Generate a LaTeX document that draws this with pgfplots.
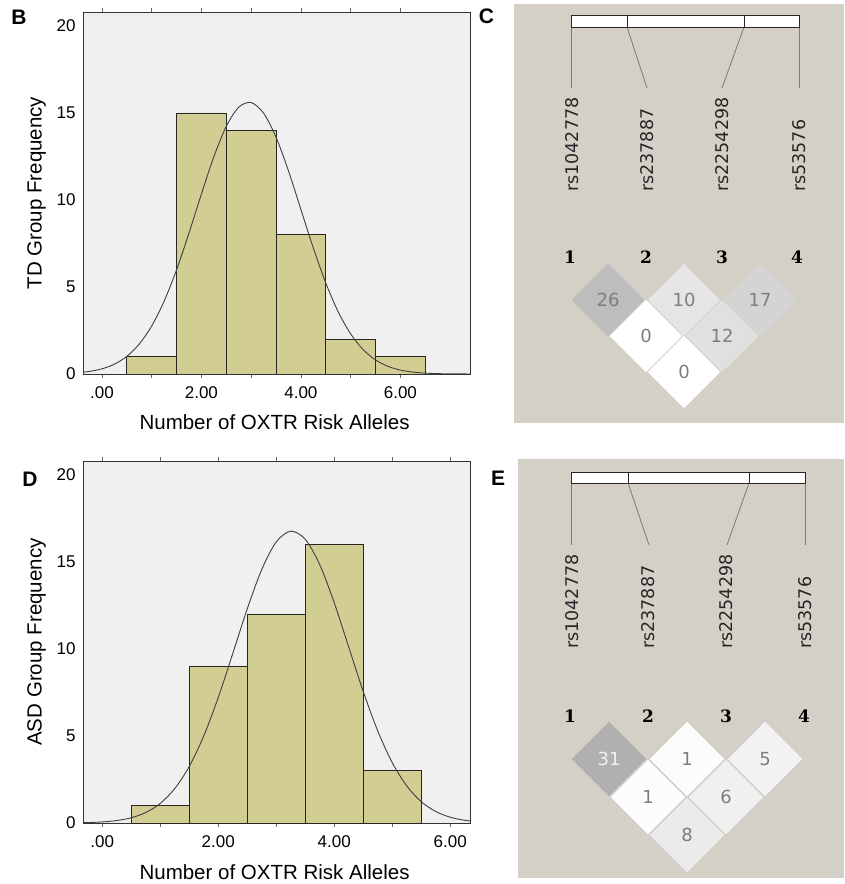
\documentclass[border=0pt]{standalone}
\usepackage{fontspec}
\setmainfont{Liberation Sans}
\newfontfamily\ldsans{DejaVu Sans}
\newfontfamily\ldserif{DejaVu Serif}
\usepackage{pgfplots}
\pgfplotsset{compat=1.18}
\definecolor{barfill}{HTML}{D2CD93}
\definecolor{plotbg}{HTML}{F0F0F0}
\definecolor{ldbg}{HTML}{D4D0C8}
\definecolor{celltext}{HTML}{7E7E7E}
\definecolor{rstext}{HTML}{262626}
\definecolor{connector}{HTML}{7A7A7A}

\pgfplotsset{
  freqaxis/.style={
    scale only axis, width=387pt, height=362pt,
    ymin=0, ymax=20.8,
    axis background/.style={fill=plotbg},
    axis line style={draw=black!80, line width=0.8pt},
    tick align=outside,
    xtick={0,2,4,6}, xticklabels={.00,2.00,4.00,6.00},
    minor xtick={1,3,5},
    major tick length=4pt, minor tick length=4pt,
    ytick={0,5,10,15,20}, ytick style={draw=none},
    xtick style={black!60, line width=0.6pt},
    /pgf/number format/assume math mode=true,
    ticklabel style={font=\fontsize{17}{20}\selectfont},
    xticklabel style={yshift=-5pt},
    label style={font=\fontsize{20.5}{24}\selectfont},
    xlabel={Number of OXTR Risk Alleles},
    xlabel style={at={(axis description cs:0.495,-0.1547)}, anchor=base},
    ylabel style={at={(axis description cs:-0.1202,0.5)}, anchor=center},
  },
  freqbars/.style={ybar, bar width=1, bar shift=0pt, fill=barfill, draw=black!85, line width=0.6pt},
  normcurve/.style={smooth, no marks, draw=black!75, line width=0.9pt},
  ldcells/.style={only marks, mark=square*,
    point meta=explicit symbolic,
    nodes near coords={\pgfplotspointmeta},
    every node near coord/.append style={anchor=center, yshift=0pt,
      font=\ldsans\fontsize{18}{18}\selectfont}},
}
\tikzset{
  rslabel/.style={rotate=90, anchor=west, inner sep=0pt,
    font=\ldsans\fontsize{17.5}{18}\selectfont, text=rstext},
  snpnum/.style={inner sep=0pt, font=\ldserif\bfseries\fontsize{17}{17}\selectfont},
  panelletter/.style={inner sep=0pt, font=\bfseries\fontsize{21}{21}\selectfont},
}
% one LD cell: x, y, r^2 x 100 (shade), half side, text colour
\newcommand{\ldcell}[5]{%
  \addplot[ldcells, color=black!#3, mark size=#4,
    mark options={rotate=45},
    every node near coord/.append style={text=#5}]
    coordinates {(#1,#2) [#3]};}

\begin{document}
\begin{tikzpicture}
\useasboundingbox (0,0) rectangle (844pt,884pt);
\fill[white] (0,0) rectangle (844pt,884pt);
\fill[ldbg] (514pt,461pt) rectangle (844pt,880pt);
\fill[ldbg] (518pt,6pt) rectangle (844pt,425pt);

% B: TD group
\begin{axis}[freqaxis, at={(83pt,510pt)}, anchor=south west,
    xmin=-0.38, xmax=7.4, ylabel={TD Group Frequency}]
\addplot[freqbars] coordinates {(1,1) (2,15) (3,14) (4,8) (5,2) (6,1)};
\addplot[normcurve] coordinates {
(-0.5,0.0687) (-0.25,0.1465) (0,0.2953) (0.25,0.5622) (0.5,1.0107)
(0.75,1.7168) (1,2.7552) (1.25,4.1770) (1.5,5.9811) (1.75,8.0907)
(2,10.339) (2.25,12.480) (2.5,14.230) (2.75,15.328) (3,15.596)
(3.25,14.991) (3.5,13.611) (3.75,11.674) (4,9.4595) (4.25,7.2395)
(4.5,5.2346) (4.75,3.5751) (5,2.3065) (5.25,1.4058) (5.5,0.8094)
(5.75,0.4402) (6,0.2261) (6.25,0.1097) (6.5,0.0503) (6.75,0.0218)
(7,0.0089) (7.25,0.0034) (7.5,0.0013)};
\end{axis}

% D: ASD group
\begin{axis}[freqaxis, at={(83pt,61pt)}, anchor=south west,
    xmin=-0.33, xmax=6.34, ylabel={ASD Group Frequency}]
\addplot[freqbars] coordinates {(1,1) (2,9) (3,12) (4,16) (5,3)};
\addplot[normcurve] coordinates {
(-0.5,0.0096) (-0.25,0.0251) (0,0.0611) (0.25,0.1396) (0.5,0.2986)
(0.75,0.5984) (1,1.1223) (1.25,1.9708) (1.5,3.2407) (1.75,4.9920)
(2,7.2001) (2.25,9.7247) (2.5,12.297) (2.75,14.562) (3,16.148)
(3.25,16.768) (3.5,16.304) (3.75,14.845) (4,12.657) (4.25,10.106)
(4.5,7.5549) (4.75,5.2889) (5,3.4671) (5.25,2.1286) (5.5,1.2231)
(5.75,0.6586) (6,0.3319) (6.25,0.1567) (6.5,0.0692)};
\end{axis}

% C and E: LD plots, drawn in pixel coordinates
\begin{axis}[at={(0pt,0pt)}, anchor=south west, scale only axis,
    width=844pt, height=884pt, xmin=0, xmax=844, ymin=0, ymax=884,
    y dir=reverse, hide axis, clip=false]
% C
\draw[connector, line width=0.8pt] (axis cs:571,27) -- (axis cs:571,88);
\draw[connector, line width=0.8pt] (axis cs:627,27) -- (axis cs:647,88);
\draw[connector, line width=0.8pt] (axis cs:744,27) -- (axis cs:722,88);
\draw[connector, line width=0.8pt] (axis cs:799,27) -- (axis cs:799,88);
\draw[fill=white, draw=black!85, line width=1pt] (axis cs:571,15) rectangle (axis cs:799,27);
\draw[black!85, line width=1pt] (axis cs:627,15) -- (axis cs:627,27);
\draw[black!85, line width=1pt] (axis cs:744,15) -- (axis cs:744,27);
\node[rslabel] at (axis cs:572,192) {rs1042778};
\node[rslabel] at (axis cs:647,192) {rs237887};
\node[rslabel] at (axis cs:722,192) {rs2254298};
\node[rslabel] at (axis cs:799,192) {rs53576};
\node[snpnum] at (axis cs:570,257) {1};
\node[snpnum] at (axis cs:646,257) {2};
\node[snpnum] at (axis cs:722,257) {3};
\node[snpnum] at (axis cs:797,257) {4};
\ldcell{608}{300}{26}{25.4pt}{celltext}
\ldcell{684}{300}{10}{25.4pt}{celltext}
\ldcell{760}{300}{17}{25.4pt}{celltext}
\ldcell{646}{336}{0}{25.4pt}{celltext}
\ldcell{722}{336}{12}{25.4pt}{celltext}
\ldcell{684}{372}{0}{25.4pt}{celltext}
% E
\draw[connector, line width=0.8pt] (axis cs:571,483) -- (axis cs:571,545);
\draw[connector, line width=0.8pt] (axis cs:628,483) -- (axis cs:649,545);
\draw[connector, line width=0.8pt] (axis cs:749,483) -- (axis cs:727,545);
\draw[connector, line width=0.8pt] (axis cs:805,483) -- (axis cs:805,545);
\draw[fill=white, draw=black!85, line width=1pt] (axis cs:571,472) rectangle (axis cs:805,483);
\draw[black!85, line width=1pt] (axis cs:628,472) -- (axis cs:628,483);
\draw[black!85, line width=1pt] (axis cs:749,472) -- (axis cs:749,483);
\node[rslabel] at (axis cs:572,649) {rs1042778};
\node[rslabel] at (axis cs:648,649) {rs237887};
\node[rslabel] at (axis cs:726,649) {rs2254298};
\node[rslabel] at (axis cs:805,649) {rs53576};
\node[snpnum] at (axis cs:570,716) {1};
\node[snpnum] at (axis cs:648,716) {2};
\node[snpnum] at (axis cs:726,716) {3};
\node[snpnum] at (axis cs:804,716) {4};
\ldcell{609}{759}{31}{26pt}{white!95!black}
\ldcell{687}{759}{1}{26pt}{celltext}
\ldcell{765}{759}{5}{26pt}{celltext}
\ldcell{648}{797}{1}{26pt}{celltext}
\ldcell{726}{797}{6}{26pt}{celltext}
\ldcell{687}{835}{8}{26pt}{celltext}
\end{axis}

\node[panelletter] at (19pt,866.5pt) {B};
\node[panelletter] at (486.5pt,868pt) {C};
\node[panelletter] at (30pt,405pt) {D};
\node[panelletter] at (498pt,406pt) {E};
\end{tikzpicture}
\end{document}
